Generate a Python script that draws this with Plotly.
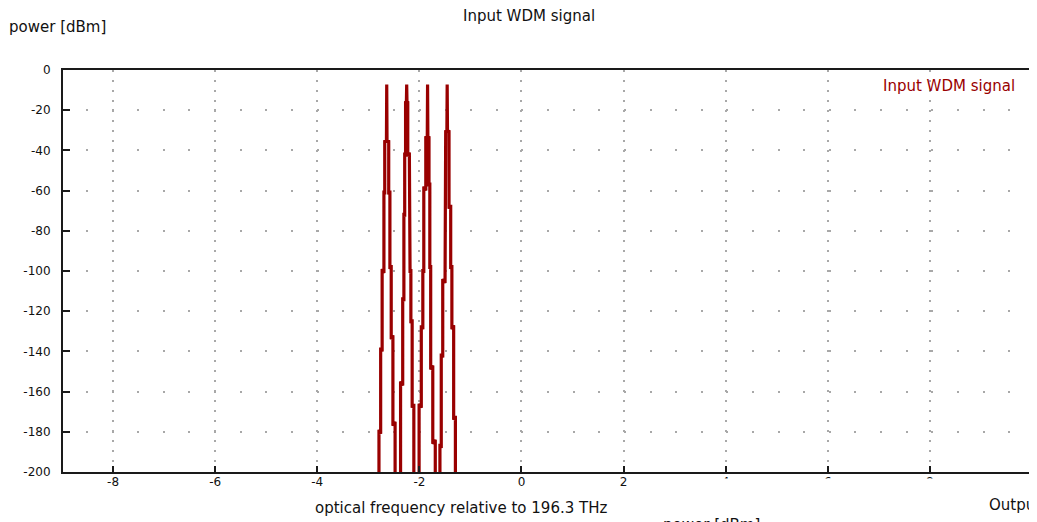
import plotly.graph_objects as go

# ---------------- data ----------------
# optical frequency relative to 196.3 THz [THz] and power [dBm] of the input WDM spectrum
freq_ch1 = [-2.791, -2.791, -2.758, -2.758, -2.729, -2.729, -2.694, -2.694, -2.678, -2.678,
            -2.645, -2.639, -2.633, -2.600, -2.600, -2.577, -2.577, -2.551, -2.551,
            -2.518, -2.518, -2.475, -2.475]
pow_ch1 = [-215, -179, -181, -138, -140, -99, -101, -60, -62, -35,
           -36, -7.2, -36, -35, -62, -60, -99, -97, -134,
           -132, -177, -175, -215]

freq_ch2 = [-2.368, -2.368, -2.326, -2.326, -2.303, -2.303, -2.287, -2.287, -2.270, -2.270,
            -2.254, -2.248, -2.242, -2.227, -2.227, -2.196, -2.196, -2.182, -2.182,
            -2.166, -2.166, -2.141, -2.141, -2.108, -2.108]
pow_ch2 = [-215, -155, -157, -113, -115, -71, -73, -41, -43, -15.5,
           -16, -7.2, -16, -15.5, -43, -41, -73, -71, -101,
           -99, -126, -124, -168, -166, -215]

freq_ch3 = [-2.005, -2.005, -1.962, -1.962, -1.932, -1.932, -1.913, -1.913, -1.874, -1.874,
            -1.845, -1.839, -1.833, -1.811, -1.811, -1.795, -1.795, -1.778, -1.778,
            -1.737, -1.737, -1.688, -1.688]
pow_ch3 = [-215, -166, -168, -127, -129, -99, -101, -58, -60, -33,
           -34, -7.2, -34, -33, -58, -56, -99, -97, -149,
           -147, -186, -184, -215]

freq_ch4 = [-1.597, -1.597, -1.571, -1.571, -1.542, -1.542, -1.497, -1.497, -1.484, -1.484,
            -1.461, -1.455, -1.449, -1.419, -1.419, -1.386, -1.386, -1.363, -1.363,
            -1.328, -1.328, -1.294, -1.294]
pow_ch4 = [-215, -186, -188, -141, -143, -104, -106, -69, -71, -30,
           -31, -7.2, -31, -30, -69, -67, -99, -97, -129,
           -127, -174, -172, -215]

freq = freq_ch1 + freq_ch2 + freq_ch3 + freq_ch4
power = pow_ch1 + pow_ch2 + pow_ch3 + pow_ch4

x_ticks = [-8, -6, -4, -2, 0, 2, 4, 6, 8, 10]
x_tick_labels = ["-8", "-6", "-4", "-2", "0", "2", "4", "6", "8", "10"]
y_ticks = [0, -20, -40, -60, -80, -100, -120, -140, -160, -180, -200]
y_tick_labels = ["0", "-20", "-40", "-60", "-80", "-100", "-120", "-140", "-160", "-180", "-200"]

title_text = "Input WDM signal"
legend_text = "Input WDM signal"
y_title = "power [dBm]"
x_title = "optical frequency relative to 196.3 THz"
next_title = "Output WDM signal"

# ---------------- figure ----------------
OFF = 8                      # default page margin around the plot div
W, H = 1037 - OFF, 522 - OFF
L, R, T, B = 55, 3, 62, 50
pw, ph = W - L - R, H - T - B

def px(x):                   # page pixel -> paper x
    return (x - OFF - L) / pw

def py(y):                   # page pixel -> paper y
    return (H - B - (y - OFF)) / ph

FONT = "DejaVu Sans, Liberation Sans, Arial, sans-serif"
RED = "#990000"
TXT = 15

fig = go.Figure()
fig.add_trace(go.Scatter(
    x=freq, y=power, mode="lines",
    line=dict(color=RED, width=3.2),
    hoverinfo="skip", showlegend=False,
))

axis_common = dict(
    showline=True, linecolor="#1a1a1a", linewidth=2, mirror=True,
    ticks="inside", tickcolor="#1a1a1a", tickwidth=2,
    zeroline=False, showgrid=True, gridcolor="#a8a8a8", gridwidth=2,
    tickfont=dict(family=FONT, size=12, color="#111111"),
)

fig.update_layout(
    width=W, height=H,
    margin=dict(l=L, r=R, t=T, b=B),
    paper_bgcolor="white", plot_bgcolor="white",
    showlegend=False,
    xaxis=dict(range=[-8.98, 10], tickvals=x_ticks, ticktext=x_tick_labels,
               ticklen=6, griddash="2px,8px", ticklabelstandoff=-2, **axis_common),
    yaxis=dict(range=[-200, 0], tickvals=y_ticks, ticktext=y_tick_labels,
               ticklen=7, griddash="0px,23px,2px,0.615px", ticklabelstandoff=8,
               **axis_common),
    annotations=[
        dict(text=title_text, x=px(530), y=py(15.5), xref="paper", yref="paper",
             showarrow=False, xanchor="center", yanchor="middle",
             font=dict(family=FONT, size=TXT, color="#111111")),
        dict(text=y_title, x=px(7), y=py(27), xref="paper", yref="paper",
             showarrow=False, xanchor="left", yanchor="middle",
             font=dict(family=FONT, size=TXT, color="#111111")),
        dict(text=legend_text, x=px(1019), y=py(86), xref="paper", yref="paper",
             showarrow=False, xanchor="right", yanchor="middle",
             font=dict(family=FONT, size=TXT, color=RED)),
        dict(text=x_title, x=px(462), y=py(508), xref="paper", yref="paper",
             showarrow=False, xanchor="center", yanchor="middle",
             font=dict(family=FONT, size=TXT, color="#111111")),
        dict(text=y_title, x=px(662), y=py(525), xref="paper", yref="paper",
             showarrow=False, xanchor="left", yanchor="middle",
             font=dict(family=FONT, size=TXT, color="#111111")),
        dict(text=next_title, x=px(989), y=py(505), xref="paper", yref="paper",
             showarrow=False, xanchor="left", yanchor="middle",
             font=dict(family=FONT, size=TXT, color="#111111")),
    ],
    shapes=[
        dict(type="rect", xref="paper", yref="paper", layer="above",
             x0=px(660), x1=px(1045), y0=py(478.5), y1=py(494),
             fillcolor="white", line=dict(width=0)),
    ],
)

fig.write_html("out.html", config={"displayModeBar": False})
